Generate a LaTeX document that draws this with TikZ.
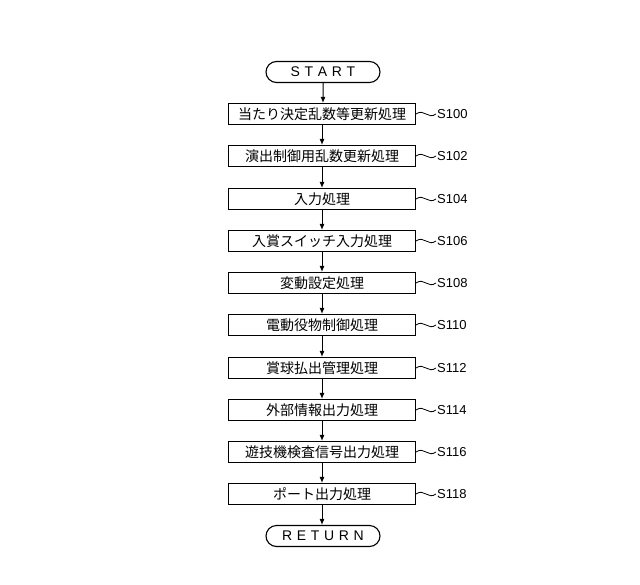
\documentclass[tikz,border=0pt]{standalone}
\usepackage{fontspec}
\newfontfamily\cjk{Noto Sans CJK JP}
\setmainfont{Liberation Sans}
\usetikzlibrary{arrows.meta,shapes.misc}
\begin{document}
\begin{tikzpicture}[x=1pt,y=-1pt,
  proc/.style={draw,line width=1.1pt,minimum width=187pt,minimum height=21pt,inner sep=0pt,font=\cjk\fontsize{14}{14}\selectfont},
  term/.style={draw,line width=1.1pt,rounded rectangle,minimum width=114pt,minimum height=21pt,inner sep=0pt,font=\fontsize{14}{14}\selectfont},
  arr/.style={line width=1pt,-{Latex[length=6pt,width=5pt]}},
  lab/.style={anchor=west,inner sep=0pt,font=\fontsize{13}{13}\selectfont}]
\useasboundingbox (0,0) rectangle (640,584);
\node[term] (st) at (323,72) {S\,\,T\,\,A\,\,R\,\,T};
\foreach \n/\y/\t/\s in {
 a/114/当たり決定乱数等更新処理/S100,
 b/156/演出制御用乱数更新処理/S102,
 c/199/入力処理/S104,
 d/241/入賞スイッチ入力処理/S106,
 e/283/変動設定処理/S108,
 f/325/電動役物制御処理/S110,
 g/368/賞球払出管理処理/S112,
 h/410/外部情報出力処理/S114,
 i/452/遊技機検査信号出力処理/S116,
 j/494/ポート出力処理/S118}{
  \node[proc] (\n) at (322,\y) {\t};
  \coordinate (\n s) at (436,\y);
  \draw[line width=0.8pt] (\n.east) .. controls (424,\y-6) and (428,\y+6) .. (\n s);
  \node[lab] (\n l) at (437,\y) {\s};
}
\node[term] (rt) at (323,536) {R\,\,E\,\,T\,\,U\,\,R\,\,N};
\draw[arr] (st) -- (st |- a.north);
\draw[arr] (a) -- (b);
\draw[arr] (b) -- (c);
\draw[arr] (c) -- (d);
\draw[arr] (d) -- (e);
\draw[arr] (e) -- (f);
\draw[arr] (f) -- (g);
\draw[arr] (g) -- (h);
\draw[arr] (h) -- (i);
\draw[arr] (i) -- (j);
\draw[arr] (j) -- (j |- rt.north);
\end{tikzpicture}
\end{document}
